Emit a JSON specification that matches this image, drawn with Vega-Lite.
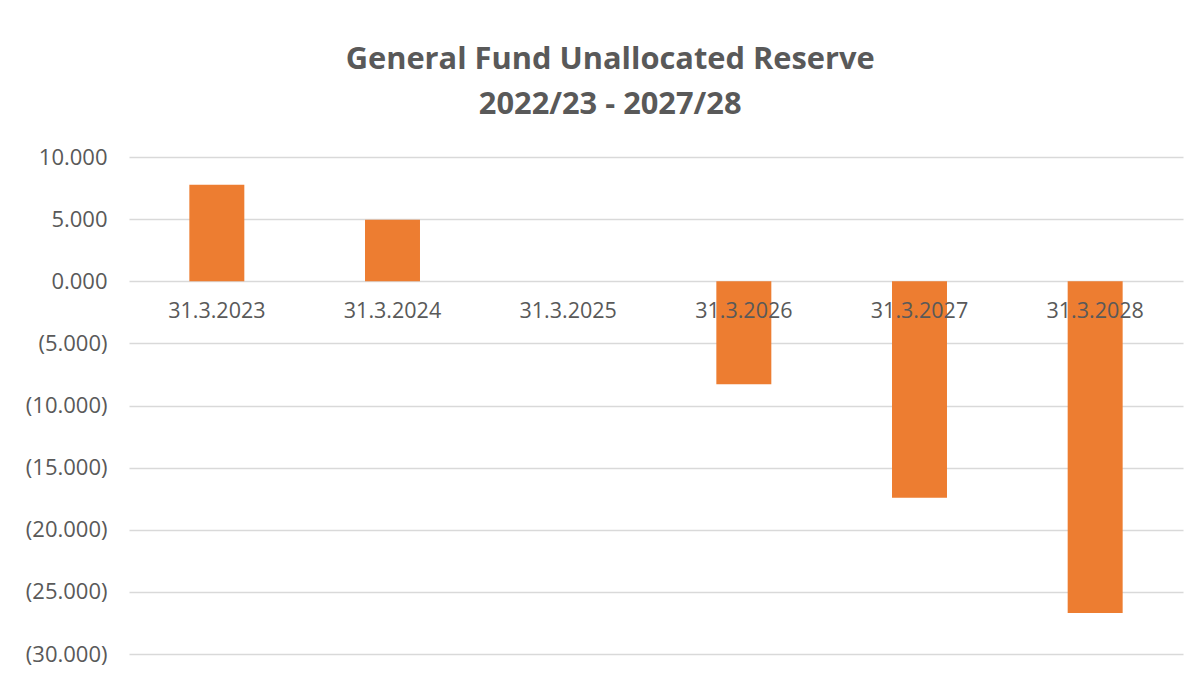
{
  "$schema": "https://vega.github.io/schema/vega-lite/v6.json",
  "autosize": {"type": "none"},
  "padding": {"left": 129, "top": 157, "right": 19, "bottom": 21},
  "width": 1054,
  "height": 497,
  "background": "white",
  "title": {
    "text": ["General Fund Unallocated Reserve", "2022/23 - 2027/28"],
    "font": "Open Sans",
    "fontSize": 30.8,
    "fontWeight": "bold",
    "color": "#595959",
    "anchor": "middle",
    "frame": "bounds",
    "lineHeight": 45,
    "offset": 25,
    "dx": 6
  },
  "data": {
    "values": [
      {"Date": "31.3.2023", "Value": 7.77},
      {"Date": "31.3.2024", "Value": 4.95},
      {"Date": "31.3.2025", "Value": 0},
      {"Date": "31.3.2026", "Value": -8.28},
      {"Date": "31.3.2027", "Value": -17.43},
      {"Date": "31.3.2028", "Value": -26.71}
    ]
  },
  "encoding": {
    "x": {
      "field": "Date",
      "type": "nominal",
      "sort": null,
      "axis": null,
      "scale": {"paddingInner": 0.687, "paddingOuter": 0.3435}
    }
  },
  "layer": [
    {
      "mark": {"type": "bar", "color": "#ED7D31"},
      "encoding": {
        "y": {
          "field": "Value",
          "type": "quantitative",
          "scale": {"domain": [-30, 10], "nice": false, "zero": true},
          "axis": {
            "values": [-30, -25, -20, -15, -10, -5, 0, 5, 10],
            "title": null,
            "domain": false,
            "ticks": false,
            "grid": true,
            "gridColor": "#d9d9d9",
            "gridWidth": 1.5,
            "labelFont": "Open Sans",
            "labelFontSize": 22,
            "labelColor": "#595959",
            "labelPadding": 22,
            "labelExpr": "datum.value < 0 ? '(' + format(-datum.value, '.3f') + ')' : format(datum.value, '.3f')"
          }
        }
      }
    },
    {
      "mark": {"type": "text", "dy": 31, "font": "Open Sans", "fontSize": 21.5, "color": "#595959", "baseline": "middle", "align": "center"},
      "encoding": {
        "y": {"datum": 0, "type": "quantitative"},
        "text": {"field": "Date"}
      }
    }
  ],
  "config": {"view": {"stroke": null}}
}
